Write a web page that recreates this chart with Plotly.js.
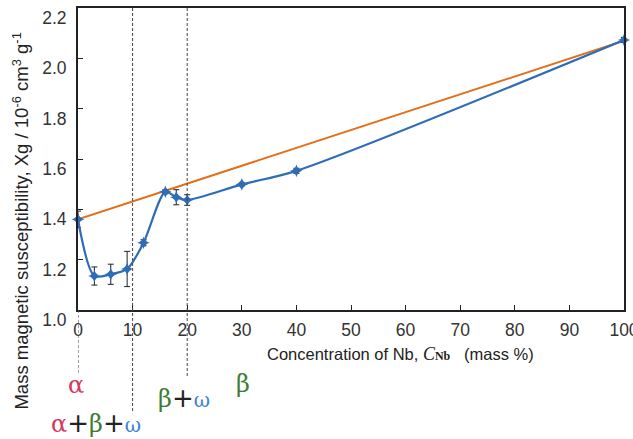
<!DOCTYPE html>
<html>
<head>
<meta charset="utf-8">
<script src="https://cdn.plot.ly/plotly-3.0.1.min.js"></script>
<style>html,body{margin:0;padding:0;background:#fff}#chart{width:633px;height:439px}</style>
</head>
<body>
<div id="chart"></div>
<script>
// Nb concentration (mass %) and measured mass magnetic susceptibility
const concNb = [0, 3, 6, 9, 12, 16, 18, 20, 30, 40, 100];
const chiMeasured = [1.36, 1.135, 1.142, 1.163, 1.267, 1.47, 1.448, 1.437, 1.499, 1.553, 2.073];
const chiError = [0.033, 0.036, 0.04, 0.07, 0.012, 0.008, 0.03, 0.021, 0.006, 0.01, 0.01];
// linear (rule-of-mixtures) line between pure Ti and pure Nb
const lineConc = [0, 100];
const lineChi = [1.36, 2.07];
// tick labels
const xTicks = [0, 10, 20, 30, 40, 50, 60, 70, 80, 90, 100];
const yTicks = [1.0, 1.2, 1.4, 1.6, 1.8, 2.0, 2.2];
const yTickText = ['1.0', '1.2', '1.4', '1.6', '1.8', '2.0', '2.2'];
// phase boundaries (mass % Nb)
const phaseBounds = [0, 10, 20];

const cA = '#d23a5e', cB = '#3f7b33', cW = '#3d85cc', cP = '#222';

const traces = [
  {
    x: lineConc, y: lineChi, mode: 'lines', type: 'scatter',
    line: {color: '#e0701e', width: 2}, hoverinfo: 'skip'
  },
  {
    x: concNb, y: chiMeasured, mode: 'lines+markers', type: 'scatter', cliponaxis: false,
    line: {color: '#2e6cb8', width: 2.2, shape: 'spline', smoothing: 0.8},
    marker: {symbol: 'star-diamond', size: 9, color: '#2e6cb8'},
    error_y: {type: 'data', array: chiError, visible: true, color: '#222', thickness: 1, width: 3}
  }
];

const pxX = px => (px - 77.5) / 546.5;
const pxY = py => (310 - py) / 302;

const shapes = [
  {type: 'line', xref: 'x', yref: 'paper', x0: phaseBounds[0], x1: phaseBounds[0], y0: 0, y1: pxY(373),
   line: {color: '#444', width: 1, dash: '3px,2px'}},
  {type: 'line', xref: 'x', yref: 'paper', x0: phaseBounds[1], x1: phaseBounds[1], y0: 1, y1: pxY(411),
   line: {color: '#444', width: 1, dash: '3px,2px'}},
  {type: 'line', xref: 'x', yref: 'paper', x0: phaseBounds[2], x1: phaseBounds[2], y0: 1, y1: pxY(376),
   line: {color: '#444', width: 1, dash: '3px,2px'}}
];

const gfont = {family: 'DejaVu Serif, serif', size: 24};
const plus = '<span style="color:' + cP + ';font-family:DejaVu Sans;font-size:26px">+</span>';
const omega = '<span style="color:' + cW + ';font-size:20px">ω</span>';
const base = {xref: 'paper', yref: 'paper', showarrow: false, xanchor: 'center', yanchor: 'middle'};
const annotations = [
  Object.assign({}, base, {x: pxX(20), y: pxY(221), textangle: -90,
   text: 'Mass magnetic susceptibility, Xg / 10<sup>-6</sup> cm<sup>3</sup> g<sup>-1</sup>',
   font: {family: 'Liberation Sans, Arial, sans-serif', size: 18.5, color: '#222'}}),
  Object.assign({}, base, {x: pxX(400), y: pxY(354),
   text: 'Concentration of Nb, <span style="font-family:Liberation Serif;font-style:italic;font-size:18px">C</span><span style="font-family:Liberation Serif;font-weight:bold;font-size:12px">Nb</span>   (mass %)',
   font: {family: 'Liberation Sans, Arial, sans-serif', size: 16.5, color: '#222'}}),
  Object.assign({}, base, {x: pxX(75), y: pxY(385),
   text: '<span style="color:' + cA + '">α</span>', font: gfont}),
  Object.assign({}, base, {x: pxX(96), y: pxY(423),
   text: '<span style="color:' + cA + '">α</span>' + plus + '<span style="color:' + cB + '">β</span>' + plus + omega, font: gfont}),
  Object.assign({}, base, {x: pxX(184), y: pxY(398),
   text: '<span style="color:' + cB + '">β</span>' + plus + omega, font: gfont}),
  Object.assign({}, base, {x: pxX(243), y: pxY(384),
   text: '<span style="color:' + cB + '">β</span>', font: gfont})
];

const layout = {
  width: 633, height: 439,
  margin: {l: 77.5, r: 9, t: 8, b: 129},
  paper_bgcolor: '#fff', plot_bgcolor: '#fff',
  showlegend: false,
  font: {family: 'Liberation Sans, Arial, sans-serif', size: 17.5, color: '#333'},
  xaxis: {
    range: [0, 100], tickvals: xTicks, ticks: 'inside', ticklen: 5, tickcolor: '#222',
    showgrid: false, zeroline: false, showline: true, linecolor: '#222', linewidth: 2, mirror: true,
    ticklabelstandoff: 3, ticklabeloverflow: 'allow'
  },
  yaxis: {
    range: [1.0, 2.2], tickvals: yTicks, ticktext: yTickText, ticks: 'inside', ticklen: 5, tickcolor: '#222',
    showgrid: false, zeroline: false, showline: true, linecolor: '#222', linewidth: 2, mirror: true,
    ticklabelshift: 10, ticklabelstandoff: 6, ticklabeloverflow: 'allow'
  },
  shapes: shapes,
  annotations: annotations
};

Plotly.newPlot('chart', traces, layout, {displayModeBar: false, staticPlot: true});
</script>
</body>
</html>
